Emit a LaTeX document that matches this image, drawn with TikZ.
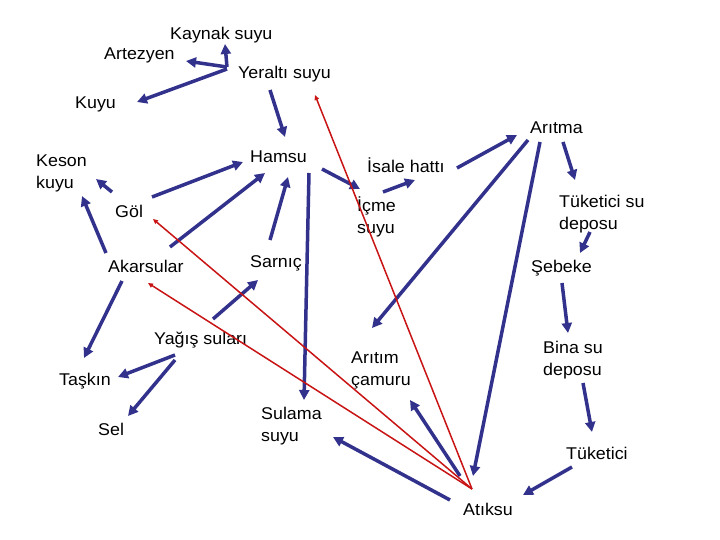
\documentclass[tikz,border=0pt]{standalone}
\usepackage{fontspec}
\setmainfont{Liberation Sans}[FakeStretch=1.05]
\usepackage{xcolor}
\usepackage{tikz}
\usetikzlibrary{arrows.meta}

\definecolor{flowblue}{RGB}{50,50,140}
\definecolor{flowred}{RGB}{200,20,20}

\begin{document}
\begin{tikzpicture}[x=1pt, y=-1pt,
    term/.style={anchor=north west, inner sep=0pt, align=left, font=\fontsize{17}{22}\selectfont},
    flow/.style={draw=flowblue, line width=3.5pt, -{Triangle[length=10pt, width=10pt]}},
    waste/.style={draw=flowred, line width=1.5pt, -{Triangle[length=5pt, width=4.5pt]}}]

    \useasboundingbox (0,0) rectangle (720,540);

    \node[term] (kaynak) at (170,27) {Kaynak suyu};
    \node[term] (artezyen) at (104,48) {Artezyen};
    \node[term] (yeralti) at (238,66) {Yeraltı suyu};
    \node[term] (kuyu) at (75,97) {Kuyu};
    \node[term] (aritma) at (530,122) {Arıtma};
    \node[term] (hamsu) at (250,151) {Hamsu};
    \node[term] (keson) at (36,155) {Keson\\kuyu};
    \node[term] (isale) at (367,158) {İsale hattı};
    \node[term] (icme) at (357,197) {İçme\\suyu};
    \node[term] (tukdepo) at (559,195) {Tüketici su\\deposu};
    \node[term] (gol) at (115,205) {Göl};
    \node[term] (akarsular) at (108,260) {Akarsular};
    \node[term] (sarnic) at (250,255) {Sarnıç};
    \node[term] (sebeke) at (531,260) {Şebeke};
    \node[term] (yagis) at (154,332) {Yağış suları};
    \node[term] (bina) at (543,341) {Bina su\\deposu};
    \node[term] (camur) at (351,352) {Arıtım\\çamuru};
    \node[term] (taskin) at (59,373) {Taşkın};
    \node[term] (sulama) at (261,407) {Sulama\\suyu};
    \node[term] (sel) at (98,423) {Sel};
    \node[term] (tuketici) at (566,447) {Tüketici};
    \node[term] (atiksu) at (463,503) {Atıksu};

    % groundwater
    \draw[flow] ([shift={(-11,1)}]yeralti.north west) -- ([shift={(55,17)}]kaynak.north west);
    \draw[flow] ([shift={(-11,1)}]yeralti.north west) -- ([shift={(82,13)}]artezyen.north west);
    \draw[flow] ([shift={(-11,3)}]yeralti.north west) -- ([shift={(62,5)}]kuyu.north west);
    \draw[flow] ([shift={(32,24)}]yeralti.north west) -- ([shift={(35,-14)}]hamsu.north west);

    % surface water
    \draw[flow] ([shift={(-3,-13)}]gol.north west) -- ([shift={(60,24)}]keson.north west);
    \draw[flow] ([shift={(37,-8)}]gol.north west) -- ([shift={(-7,11)}]hamsu.north west);
    \draw[flow] ([shift={(-2,-7)}]akarsular.north west) -- ([shift={(46,41)}]keson.north west);
    \draw[flow] ([shift={(62,-13)}]akarsular.north west) -- ([shift={(15,22)}]hamsu.north west);
    \draw[flow] ([shift={(20,-15)}]sarnic.north west) -- ([shift={(38,26)}]hamsu.north west);
    \draw[flow] ([shift={(59,22)}]hamsu.north west) -- ([shift={(43,-7)}]sulama.north west);
    \draw[flow] ([shift={(14,21)}]akarsular.north west) -- ([shift={(25,-15)}]taskin.north west);
    \draw[flow] ([shift={(59,-13)}]yagis.north west) -- ([shift={(8,25)}]sarnic.north west);
    \draw[flow] ([shift={(21,23)}]yagis.north west) -- ([shift={(59,4)}]taskin.north west);
    \draw[flow] ([shift={(21,28)}]yagis.north west) -- ([shift={(30,-7)}]sel.north west);

    % supply chain
    \draw[flow] ([shift={(72,18)}]hamsu.north west) -- ([shift={(3,-8)}]icme.north west);
    \draw[flow] ([shift={(26,-5)}]icme.north west) -- ([shift={(48,22)}]isale.north west);
    \draw[flow] ([shift={(90,10)}]isale.north west) -- ([shift={(-13,13)}]aritma.north west);
    \draw[flow] ([shift={(33,20)}]aritma.north west) -- ([shift={(16,-15)}]tukdepo.north west);
    \draw[flow] ([shift={(31,37)}]tukdepo.north west) -- ([shift={(49,-7)}]sebeke.north west);
    \draw[flow] ([shift={(31,23)}]sebeke.north west) -- ([shift={(25,-8)}]bina.north west);
    \draw[flow] ([shift={(40,42)}]bina.north west) -- ([shift={(26,-15)}]tuketici.north west);
    \draw[flow] ([shift={(6,20)}]tuketici.north west) -- ([shift={(60,-8)}]atiksu.north west);
    \draw[flow] ([shift={(-2,18)}]aritma.north west) -- ([shift={(21,-24)}]camur.north west);
    \draw[flow] ([shift={(10,20)}]aritma.north west) -- ([shift={(10,-27)}]atiksu.north west);
    \draw[flow] ([shift={(-3,-27)}]atiksu.north west) -- ([shift={(59,48)}]camur.north west);
    \draw[flow] ([shift={(-13,-3)}]atiksu.north west) -- ([shift={(72,30)}]sulama.north west);

    % wastewater back to sources
    \draw[waste] ([shift={(9,-14)}]atiksu.north west) -- ([shift={(77,29)}]yeralti.north west);
    \draw[waste] ([shift={(9,-14)}]atiksu.north west) -- ([shift={(38,14)}]gol.north west);
    \draw[waste] ([shift={(9,-14)}]atiksu.north west) -- ([shift={(40,23)}]akarsular.north west);
\end{tikzpicture}
\end{document}
